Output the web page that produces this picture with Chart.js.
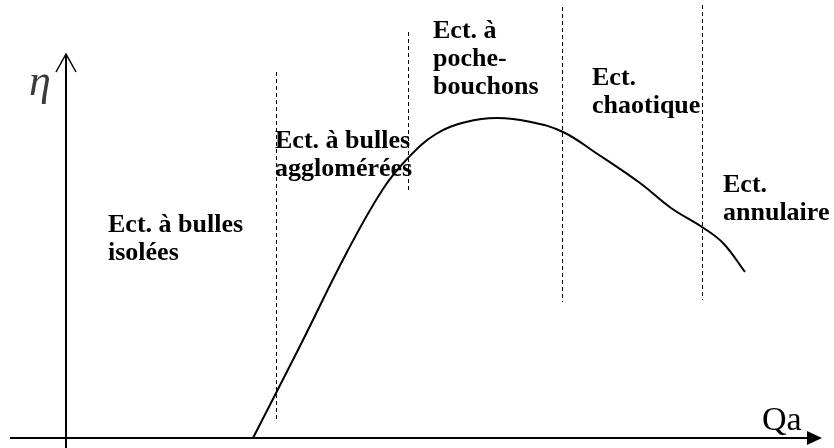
<!DOCTYPE html>
<html>
<head>
<meta charset="utf-8">
<script src="https://cdn.jsdelivr.net/npm/chart.js@4/dist/chart.umd.min.js"></script>
<style>
    body { margin: 0; background: #fff; }
    #wrap { width: 834px; height: 448px; position: relative; }
</style>
</head>
<body>
<div id="wrap"><canvas id="regimes"></canvas></div>
<script>
// flow rate Qa (x) and efficiency eta (y)
const qa = [18.7, 23.4, 28.1, 31.7, 34.2, 37.0, 40.0, 43.1, 46.5, 49.7,
            53.0, 57.4, 60.5, 63.6, 65.7, 67.9];
const eta = [0, 9.2, 18.6, 24.9, 28.0, 30.4, 31.6, 32.0, 31.6, 30.6,
             28.5, 25.5, 23.0, 21.1, 19.5, 16.6];

// regime boundaries (dashed) : x, top, bottom
const boundaryX = [21.05, 34.25, 49.65, 63.65];
const boundaryTop = [36.6, 40.6, 43.1, 43.3];
const boundaryBottom = [1.8, 24.5, 13.6, 13.8];

const regimeLabels = [
    ["Ect. à bulles", "isolées"],
    ["Ect. à bulles", "agglomérées"],
    ["Ect. à", "poche-", "bouchons"],
    ["Ect.", "chaotique"],
    ["Ect.", "annulaire"]
];
const labelX = [4.2, 20.9, 36.7, 52.6, 65.7];
const labelY = [20.6, 29.0, 40.0, 35.3, 24.6];

const yAxisName = "η";
const xAxisName = "Qa";

const datasets = [{
    data: qa.map((x, i) => ({ x: x, y: eta[i] })),
    borderColor: "#000",
    borderWidth: 2,
    pointRadius: 0,
    tension: 0.4
}];

boundaryX.forEach((x, i) => {
    datasets.push({
        data: [{ x: x, y: boundaryTop[i] }, { x: x, y: boundaryBottom[i] }],
        borderColor: "#000",
        borderWidth: 1,
        borderDash: [4, 3],
        pointRadius: 0
    });
});

const sketchPlugin = {
    id: "sketch",
    afterDraw(chart) {
        const ctx = chart.ctx;
        const xs = chart.scales.x;
        const ys = chart.scales.y;
        const x0 = xs.getPixelForValue(0);
        const y0 = ys.getPixelForValue(0);

        ctx.save();
        ctx.strokeStyle = "#000";
        ctx.fillStyle = "#000";
        ctx.lineWidth = 2;

        // x axis with filled arrow
        const xEnd = xs.getPixelForValue(75.6);
        ctx.beginPath();
        ctx.moveTo(xs.getPixelForValue(-5.6), y0);
        ctx.lineTo(xEnd - 12, y0);
        ctx.stroke();
        ctx.beginPath();
        ctx.moveTo(xEnd, y0);
        ctx.lineTo(xEnd - 15, y0 - 7);
        ctx.lineTo(xEnd - 15, y0 + 7);
        ctx.closePath();
        ctx.fill();

        // y axis with open arrow
        const yTop = ys.getPixelForValue(38.4);
        ctx.beginPath();
        ctx.moveTo(x0, ys.getPixelForValue(-1.0));
        ctx.lineTo(x0, yTop);
        ctx.stroke();
        ctx.lineWidth = 1.5;
        ctx.beginPath();
        ctx.moveTo(x0 - 10, yTop + 18);
        ctx.lineTo(x0, yTop);
        ctx.lineTo(x0 + 10, yTop + 18);
        ctx.stroke();

        // axis names
        ctx.font = "italic 44px 'Liberation Serif'";
        ctx.fillStyle = "#3a3a3a";
        ctx.fillText(yAxisName, 29, 95);
        ctx.font = "34px 'Liberation Serif'";
        ctx.fillStyle = "#000";
        ctx.fillText(xAxisName, 762, 430);

        // regime names
        ctx.font = "bold 26px 'Liberation Serif'";
        regimeLabels.forEach((lines, i) => {
            const px = xs.getPixelForValue(labelX[i]);
            const py = ys.getPixelForValue(labelY[i]);
            lines.forEach((t, j) => ctx.fillText(t, px, py + j * 28));
        });
        ctx.restore();
    }
};

new Chart(document.getElementById("regimes"), {
    type: "line",
    data: { datasets: datasets },
    options: {
        responsive: true,
        maintainAspectRatio: false,
        animation: false,
        layout: { padding: 0 },
        scales: {
            x: { type: "linear", min: -6.6, max: 76.8, display: false },
            y: { type: "linear", min: -1.0, max: 43.8, display: false }
        },
        plugins: {
            legend: { display: false },
            tooltip: { enabled: false }
        }
    },
    plugins: [sketchPlugin]
});
</script>
</body>
</html>
